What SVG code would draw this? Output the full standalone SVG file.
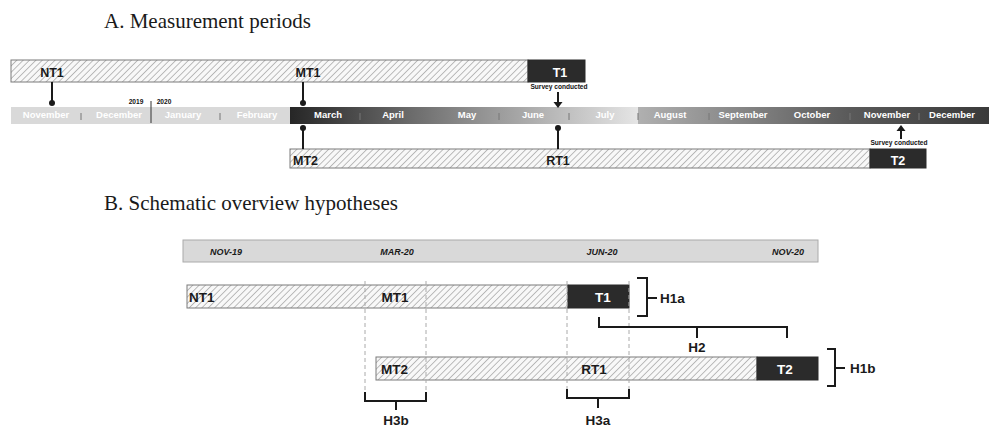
<svg xmlns="http://www.w3.org/2000/svg" width="989" height="431" viewBox="0 0 989 431">
<defs>
<pattern id="hatch" width="4.5" height="4.5" patternUnits="userSpaceOnUse" patternTransform="rotate(45)">
<rect width="4.5" height="4.5" fill="#f8f8f8"/>
<line x1="0" y1="0" x2="0" y2="4.5" stroke="#8a8a8a" stroke-width="1.1"/>
</pattern>
<linearGradient id="g1" gradientUnits="userSpaceOnUse" x1="290" y1="0" x2="640" y2="0">
<stop offset="0" stop-color="#262626"/>
<stop offset="0.5" stop-color="#8a8a8a"/>
<stop offset="1" stop-color="#e6e6e6"/>
</linearGradient>
<linearGradient id="g2" gradientUnits="userSpaceOnUse" x1="638" y1="0" x2="989" y2="0">
<stop offset="0" stop-color="#b0b0b0"/>
<stop offset="0.6" stop-color="#5a5a5a"/>
<stop offset="1" stop-color="#3a3a3a"/>
</linearGradient>
</defs>
<style>
.title{font-family:"Liberation Serif","DejaVu Serif",serif;font-size:21px;fill:#1a1a1a}
.lbl{font-family:"Liberation Sans",Arial,sans-serif;font-weight:bold;font-size:12.5px;fill:#1a1a1a}
.lblB{font-family:"Liberation Sans",Arial,sans-serif;font-weight:bold;font-size:13.5px;fill:#1a1a1a}
.wl{fill:#ffffff}
.mon{font-family:"Liberation Sans",Arial,sans-serif;font-weight:bold;font-size:9.5px;fill:#ffffff;text-anchor:middle}
.tiny{font-family:"Liberation Sans",Arial,sans-serif;font-weight:bold;font-size:6.6px;fill:#111;text-anchor:middle}
.date{font-family:"Liberation Sans",Arial,sans-serif;font-weight:bold;font-style:italic;font-size:9px;fill:#1a1a1a;text-anchor:middle}
.bar{fill:url(#hatch);stroke:#7a7a7a;stroke-width:1}
.dark{fill:#2b2b2b;stroke:#2b2b2b;stroke-width:1}
.stem{stroke:#1a1a1a;stroke-width:2;fill:none}
.sep{stroke:#777;stroke-width:1}
.dash{stroke:#aaaaaa;stroke-width:1;stroke-dasharray:4 3;fill:none}
.br{stroke:#1a1a1a;stroke-width:2;fill:none}
.mid{text-anchor:middle}
</style>

<text class="title" x="104" y="28">A. Measurement periods</text>

<g id="timeline">
<rect x="11" y="107" width="279" height="17" fill="#d9d9d9"/>
<rect x="290" y="107" width="349" height="17" fill="url(#g1)"/>
<rect x="638" y="107" width="351" height="17" fill="url(#g2)"/>
<text class="mon" x="46" y="118">November</text>
<text class="mon" x="119" y="118">December</text>
<text class="mon" x="183" y="118">January</text>
<text class="mon" x="257" y="118">February</text>
<text class="mon" x="328" y="118">March</text>
<text class="mon" x="393" y="118">April</text>
<text class="mon" x="467" y="118">May</text>
<text class="mon" x="533" y="118">June</text>
<text class="mon" x="605" y="118">July</text>
<text class="mon" x="670" y="118">August</text>
<text class="mon" x="743" y="118">September</text>
<text class="mon" x="812" y="118">October</text>
<text class="mon" x="887" y="118">November</text>
<text class="mon" x="952" y="118">December</text>
<line class="sep" x1="81" y1="113" x2="81" y2="120"/>
<line class="sep" x1="220" y1="113" x2="220" y2="120"/>
<line class="sep" x1="360" y1="113" x2="360" y2="120"/>
<line class="sep" x1="429" y1="113" x2="429" y2="120"/>
<line class="sep" x1="499" y1="113" x2="499" y2="120"/>
<line class="sep" x1="569" y1="113" x2="569" y2="120"/>
<line class="sep" x1="638" y1="113" x2="638" y2="120"/>
<line class="sep" x1="709" y1="113" x2="709" y2="120"/>
<line class="sep" x1="779" y1="113" x2="779" y2="120"/>
<line class="sep" x1="850" y1="113" x2="850" y2="120"/>
<line class="sep" x1="919" y1="113" x2="919" y2="120"/>
<line x1="151" y1="101" x2="151" y2="123" stroke="#333" stroke-width="1"/>
<text class="tiny" x="136" y="104">2019</text>
<text class="tiny" x="164" y="104">2020</text>
</g>

<g id="barNT1">
<rect class="bar" x="11" y="60" width="517" height="22"/>
<rect class="dark" x="528" y="60" width="57" height="22"/>
<text class="lbl mid" x="52" y="77">NT1</text>
<text class="lbl mid" x="308" y="77">MT1</text>
<text class="lbl mid wl" x="560" y="77">T1</text>
</g>

<g id="barMT2">
<rect class="bar" x="290" y="149" width="580" height="19"/>
<rect class="dark" x="870" y="149" width="56" height="19"/>
<text class="lbl" x="293" y="165">MT2</text>
<text class="lbl mid" x="558" y="165">RT1</text>
<text class="lbl mid wl" x="898" y="165">T2</text>
</g>

<g id="surveyA">
<text class="tiny" x="559" y="89">Survey conducted</text>
<text class="tiny" x="899" y="145">Survey conducted</text>
</g>

<g id="connectorsA">
<line class="stem" x1="52" y1="82" x2="52" y2="103"/>
<circle cx="52" cy="103" r="3" fill="#1a1a1a"/>
<line class="stem" x1="303" y1="82" x2="303" y2="103"/>
<circle cx="303" cy="103" r="3" fill="#1a1a1a"/>
<line class="stem" x1="303" y1="128" x2="303" y2="149"/>
<circle cx="303" cy="128" r="3" fill="#1a1a1a"/>
<line class="stem" x1="558" y1="128" x2="558" y2="149"/>
<circle cx="558" cy="128" r="3" fill="#1a1a1a"/>
<line class="stem" x1="558" y1="92" x2="558" y2="103"/>
<polygon points="553.5,102 562.5,102 558,108" fill="#1a1a1a"/>
<line class="stem" x1="901" y1="130" x2="901" y2="139"/>
<polygon points="896.5,131 905.5,131 901,125" fill="#1a1a1a"/>
</g>

<text class="title" x="104" y="210">B. Schematic overview hypotheses</text>

<g id="dateBar">
<rect x="183" y="240" width="635" height="22" fill="#d9d9d9" stroke="#aaaaaa" stroke-width="1"/>
<text class="date" x="226" y="255">NOV-19</text>
<text class="date" x="397" y="255">MAR-20</text>
<text class="date" x="602" y="255">JUN-20</text>
<text class="date" x="788" y="255">NOV-20</text>
</g>

<g id="barB1">
<rect class="bar" x="187" y="285" width="381" height="23"/>
<rect class="dark" x="568" y="285" width="61" height="23"/>
<text class="lblB" x="189" y="302">NT1</text>
<text class="lblB mid" x="395" y="302">MT1</text>
<text class="lblB mid wl" x="603" y="302">T1</text>
</g>

<g id="barB2">
<rect class="bar" x="376" y="357" width="381" height="23"/>
<rect class="dark" x="757" y="357" width="61" height="23"/>
<text class="lblB" x="381" y="374">MT2</text>
<text class="lblB mid" x="594" y="374">RT1</text>
<text class="lblB mid wl" x="785" y="374">T2</text>
</g>

<g id="connectorsB">
<line class="dash" x1="365" y1="281" x2="365" y2="398"/>
<line class="dash" x1="426" y1="281" x2="426" y2="398"/>
<line class="dash" x1="567" y1="281" x2="567" y2="396"/>
<line class="dash" x1="629" y1="281" x2="629" y2="396"/>
<path class="br" d="M365,392 V401 H426 V392 M396,401 V410"/>
<path class="br" d="M567,389 V398 H629 V389 M598,398 V408"/>
<path class="br" d="M637,278 H647 V316 H637 M647,298 H657"/>
<path class="br" d="M599,317 V327 H787 V338 M697,327 V338"/>
<path class="br" d="M827,349 H835 V386 H827 M835,368 H845"/>
</g>

<g id="labelsB">
<text class="lblB" x="660" y="303">H1a</text>
<text class="lblB mid" x="697" y="352">H2</text>
<text class="lblB" x="850" y="373">H1b</text>
<text class="lblB mid" x="396" y="425">H3b</text>
<text class="lblB mid" x="598" y="425">H3a</text>
</g>
</svg>
